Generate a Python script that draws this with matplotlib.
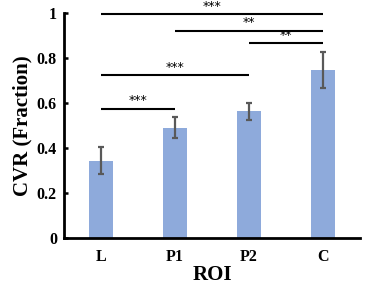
import matplotlib
matplotlib.use("Agg")
import matplotlib.pyplot as plt

# ---------------- data ----------------
ROIS = ["L", "P1", "P2", "C"]
CVR = [0.342, 0.489, 0.563, 0.746]
CVR_ERR = [0.060, 0.047, 0.038, 0.080]

# significance brackets: (start idx, end idx, y, label)
SIG_START = [0, 1, 2, 0, 0]
SIG_END = [3, 3, 3, 2, 1]
SIG_Y = [0.993, 0.921, 0.864, 0.724, 0.575]
SIG_LABEL = ["***", "**", "**", "***", "***"]
# ---------------------------------------

plt.rcParams["font.family"] = ["Liberation Serif", "DejaVu Serif"]
plt.rcParams["font.weight"] = "bold"

fig = plt.figure(figsize=(3.69, 2.86), dpi=100)
ax = fig.add_axes([0.173, 0.168, 0.803, 0.787])

x = range(len(ROIS))
ax.bar(x, CVR, width=0.32, color="#8eaadb", zorder=2)
ax.errorbar(x, CVR, yerr=CVR_ERR, fmt="none", ecolor="#595959",
            elinewidth=1.6, capsize=2.2, capthick=1.6, zorder=3)

for s, e, y, lab in zip(SIG_START, SIG_END, SIG_Y, SIG_LABEL):
    ax.plot([s, e], [y, y], color="black", lw=1.5, solid_capstyle="butt",
            clip_on=False, zorder=4)
    ax.text((s + e) / 2, y + 0.006, lab, ha="center", va="bottom",
            fontsize=9, fontweight="normal", family="DejaVu Sans")

ax.set_xlim(-0.5, 3.5)
ax.set_ylim(0, 1)
ax.set_yticks([0, 0.2, 0.4, 0.6, 0.8, 1])
ax.set_yticklabels(["0", "0.2", "0.4", "0.6", "0.8", "1"])
ax.set_xticks(list(x))
ax.set_xticklabels(ROIS)

ax.tick_params(axis="y", direction="in", length=3, width=1.8, labelsize=11.5, pad=5)
ax.tick_params(axis="x", length=0, labelsize=11.5, pad=8)
for lab in ax.get_xticklabels() + ax.get_yticklabels():
    lab.set_fontweight("bold")

for side in ["top", "right"]:
    ax.spines[side].set_visible(False)
for side in ["left", "bottom"]:
    ax.spines[side].set_linewidth(2)

ax.set_ylabel("CVR (Fraction)", fontsize=15, fontweight="bold", labelpad=3)
ax.set_xlabel("ROI", fontsize=15, fontweight="bold", labelpad=0)

fig.savefig("out.png", dpi=100)
